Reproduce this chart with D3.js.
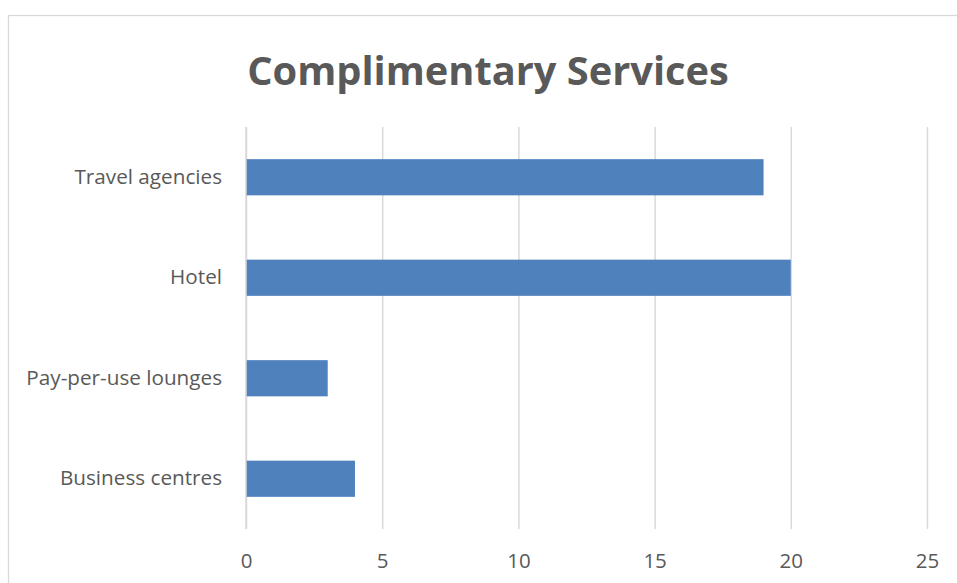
<!DOCTYPE html>
<html>
<head>
<meta charset="utf-8">
<script src="https://cdn.jsdelivr.net/npm/d3@7"></script>
<style>
  html, body { margin: 0; padding: 0; background: #fff; }
  svg { display: block; }
</style>
</head>
<body>
<svg id="chart" width="957" height="583"></svg>
<script>
// Chart data
const title = "Complimentary Services";
const categories = ["Travel agencies", "Hotel", "Pay-per-use lounges", "Business centres"];
const values = [19, 20, 3, 4];
const xTicks = [0, 5, 10, 15, 20, 25];

const W = 957, H = 583;
const plot = { left: 246, right: 927, top: 127, bottom: 529 };
const textColor = "#595959";
const gridColor = "#d9d9d9";
const barColor = "#4f81bd";
const fontFamily = "'Open Sans', 'Liberation Sans', sans-serif";

const svg = d3.select("#chart");

// Chart area frame
svg.append("rect")
  .attr("x", 8.5).attr("y", 15.5)
  .attr("width", 1000).attr("height", 1000)
  .attr("fill", "#fff")
  .attr("stroke", gridColor)
  .attr("stroke-width", 1.3);

const x = d3.scaleLinear().domain([0, 25]).range([plot.left, plot.right]);
const y = d3.scaleBand().domain(categories)
  .range([plot.top, plot.bottom])
  .paddingInner(0.64).paddingOuter(0.32);

// Vertical gridlines
const grid = svg.append("g")
  .attr("transform", `translate(0,${plot.bottom})`)
  .call(d3.axisBottom(x).tickValues(xTicks).tickSize(-(plot.bottom - plot.top)).tickFormat(""));
grid.select(".domain").remove();
grid.selectAll("line").attr("stroke", gridColor).attr("stroke-width", 1.5);

// Bars
svg.append("g")
  .selectAll("rect")
  .data(categories)
  .join("rect")
  .attr("x", x(0))
  .attr("y", d => y(d))
  .attr("width", (d, i) => x(values[i]) - x(0))
  .attr("height", y.bandwidth())
  .attr("fill", barColor);

// Value axis labels
const xAxis = svg.append("g")
  .attr("transform", `translate(0,${plot.bottom})`)
  .call(d3.axisBottom(x).tickValues(xTicks).tickSize(0).tickPadding(24));
xAxis.select(".domain").remove();
xAxis.selectAll("text")
  .attr("fill", textColor)
  .style("font-family", fontFamily)
  .style("font-size", "20.5px");

// Category labels
const yAxis = svg.append("g")
  .attr("transform", `translate(${plot.left},0)`)
  .call(d3.axisLeft(y).tickSize(0).tickPadding(24));
yAxis.select(".domain").remove();
yAxis.selectAll("text")
  .attr("fill", textColor)
  .style("font-family", fontFamily)
  .style("font-size", "20.7px");

// Category axis line
svg.append("line")
  .attr("x1", x(0)).attr("x2", x(0))
  .attr("y1", plot.top).attr("y2", plot.bottom)
  .attr("stroke", gridColor).attr("stroke-width", 1.5);

// Title
svg.append("text")
  .attr("x", 488).attr("y", 85)
  .attr("text-anchor", "middle")
  .attr("fill", textColor)
  .style("font-family", fontFamily)
  .style("font-weight", "bold")
  .style("font-size", "39.8px")
  .text(title);
</script>
</body>
</html>
